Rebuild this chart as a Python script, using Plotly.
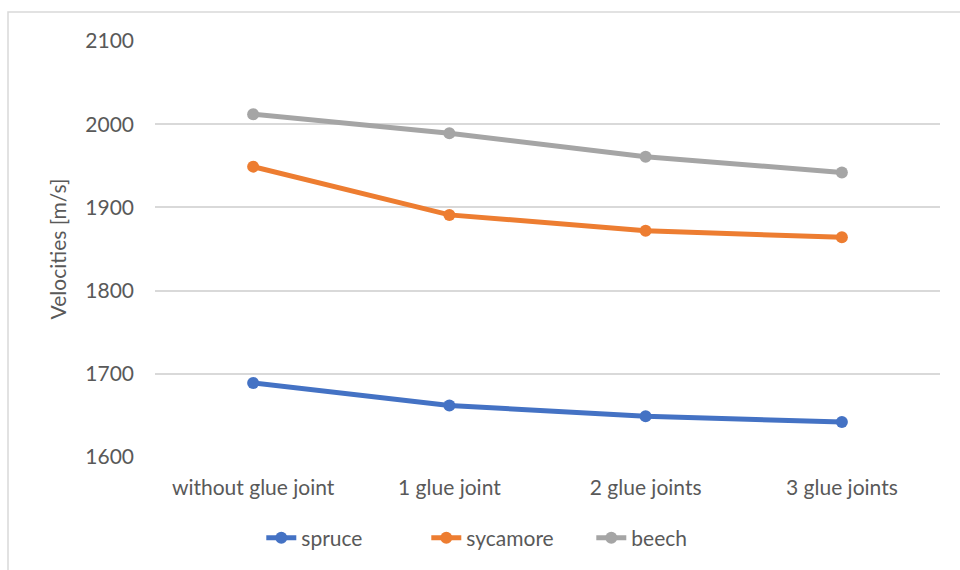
import plotly.graph_objects as go

# Categories and measured velocities (m/s)
categories = ["without glue joint", "1 glue joint", "2 glue joints", "3 glue joints"]
spruce = [1689, 1662, 1649, 1642]
sycamore = [1949, 1891, 1872, 1864]
beech = [2012, 1989, 1961, 1942]
y_ticks = [1600, 1700, 1800, 1900, 2000, 2100]

series = [
    ("spruce", spruce, "#4472C4"),
    ("sycamore", sycamore, "#ED7D31"),
    ("beech", beech, "#A5A5A5"),
]

FONT = "Lato, Calibri, 'Open Sans', sans-serif"
TEXT = "#595959"
FS = 21

fig = go.Figure()
for name, vals, color in series:
    fig.add_trace(go.Scatter(
        x=categories, y=vals, name=name, mode="lines+markers",
        line=dict(color=color, width=5),
        marker=dict(color=color, size=12),
    ))

W, H = 960, 570
L, R, T, B = 155, 20, 41, 113
pw, ph = W - L - R, H - T - B

# outer chart frame (only the left and top edges fall inside the view)
fig.add_shape(type="rect", xref="paper", yref="paper",
              x0=(8 - L) / pw, x1=(990 - L) / pw,
              y0=-(620 - (H - B)) / ph, y1=((H - B) - 12) / ph,
              line=dict(color="#D9D9D9", width=1.5), layer="below")

fig.update_layout(
    width=W, height=H,
    margin=dict(l=L, r=R, t=T, b=B, autoexpand=False),
    paper_bgcolor="white", plot_bgcolor="white",
    font=dict(family=FONT, color=TEXT, size=FS),
    showlegend=True,
    legend=dict(orientation="h", xref="container", yref="container",
                x=0.53, xanchor="center", y=1 - 538 / H, yanchor="middle",
                font=dict(size=FS, color=TEXT), traceorder="normal",
                itemsizing="constant", entrywidth=120, entrywidthmode="pixels"),
    xaxis=dict(type="category", range=[-0.5, 3.5], showgrid=False,
               zeroline=False, showline=False, ticks="", automargin=False,
               tickfont=dict(size=FS, color=TEXT), ticklabelstandoff=16),
    yaxis=dict(range=[1600, 2100], tickvals=y_ticks, showgrid=True,
               gridcolor="#D9D9D9", gridwidth=1.5, zeroline=False,
               showline=False, ticks="", automargin=False,
               tickfont=dict(size=FS, color=TEXT), ticklabelstandoff=20,
               title=dict(text="Velocities [m/s]", font=dict(size=FS, color=TEXT),
                          standoff=12)),
)

fig.write_html("out.html")
